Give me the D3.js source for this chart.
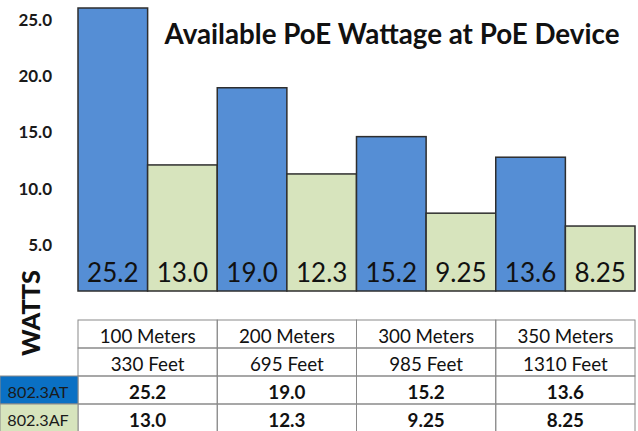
<!DOCTYPE html>
<html>
<head>
<meta charset="utf-8">
<script src="https://cdn.jsdelivr.net/npm/d3@7"></script>
<style>
  html, body { margin: 0; padding: 0; background: #ffffff; }
  svg { display: block; font-family: Lato, "Open Sans", sans-serif; }
</style>
</head>
<body>
<div id="chart"></div>
<script>
// chart data
const distancesMeters = ["100 Meters", "200 Meters", "300 Meters", "350 Meters"];
const distancesFeet = ["330 Feet", "695 Feet", "985 Feet", "1310 Feet"];
const seriesNames = ["802.3AT", "802.3AF"];
const wattsAT = [25.2, 19.0, 15.2, 13.6];
const wattsAF = [13.0, 12.3, 9.25, 8.25];
const yTicks = [5, 10, 15, 20, 25];
const title = "Available PoE Wattage at PoE Device";
const yTitle = "WATTS";

const width = 638, height = 431;
const blue = "#558ed5", green = "#d7e4bd", legendBlue = "#0a70c4";
const fmt = v => Number.isInteger(Math.round(v * 100) / 10) ? v.toFixed(1) : v.toFixed(2);

const svg = d3.select("#chart").append("svg")
    .attr("width", width)
    .attr("height", height);

const x = d3.scaleBand().domain(distancesMeters).range([78, 635]);
const xs = d3.scaleBand().domain(seriesNames).range([0, x.bandwidth()]);
// the tick labels and the bars in the original do not share one scale
const yAxisScale = d3.scaleLinear().domain([0, 25]).range([301, 20]);
const yBar = d3.scaleLinear().domain([3.2, 25.2]).range([291, 8]);

const bars = [];
distancesMeters.forEach((m, i) => {
    bars.push({ cat: m, series: seriesNames[0], value: wattsAT[i] });
    bars.push({ cat: m, series: seriesNames[1], value: wattsAF[i] });
});

// bars
svg.append("g").selectAll("rect")
    .data(bars)
    .enter()
    .append("rect")
    .attr("x", d => x(d.cat) + xs(d.series))
    .attr("y", d => yBar(d.value))
    .attr("width", xs.bandwidth())
    .attr("height", d => yBar.range()[0] - yBar(d.value))
    .attr("fill", d => d.series === seriesNames[0] ? blue : green)
    .attr("stroke", "#2e2e2e")
    .attr("stroke-width", 1.5);

svg.append("g").selectAll("text")
    .data(bars)
    .enter()
    .append("text")
    .attr("x", d => x(d.cat) + xs(d.series) + xs.bandwidth() / 2)
    .attr("y", 282)
    .attr("text-anchor", "middle")
    .style("font-size", "26px")
    .style("fill", "#111")
    .text(d => fmt(d.value));

// y axis labels
const yAxis = svg.append("g")
    .attr("transform", "translate(55,0)")
    .call(d3.axisLeft(yAxisScale).tickValues(yTicks).tickFormat(d3.format(".1f")).tickSize(0).tickPadding(3));
yAxis.select(".domain").remove();
yAxis.selectAll("text")
    .style("font-family", "Lato, sans-serif")
    .style("font-size", "17px")
    .style("font-weight", "bold")
    .style("fill", "#1a1a1a");

// title, fitted to the width in the picture
function fitText(sel, targetWidth) {
    const w = sel.node().getComputedTextLength();
    const size = parseFloat(sel.style("font-size"));
    sel.style("font-size", (size * targetWidth / w) + "px");
}
const titleText = svg.append("text")
    .attr("x", 392)
    .attr("y", 44)
    .attr("text-anchor", "middle")
    .style("font-size", "28px")
    .style("font-weight", "bold")
    .style("fill", "#111")
    .text(title);
fitText(titleText, 455);

const wattsText = svg.append("text")
    .attr("transform", "translate(40,313) rotate(-90)")
    .attr("text-anchor", "middle")
    .style("font-size", "30px")
    .style("font-weight", 900)
    .style("fill", "#111")
    .text(yTitle);
fitText(wattsText, 86);

// table under the bars
const rowKeys = ["meters", "feet", "at", "af"];
const row = d3.scaleBand().domain(rowKeys).range([320, 432]);
const rows = [
    { key: "meters", cells: distancesMeters, bold: false },
    { key: "feet", cells: distancesFeet, bold: false },
    { key: "at", cells: wattsAT.map(fmt), bold: true },
    { key: "af", cells: wattsAF.map(fmt), bold: true }
];

const table = svg.append("g");
rows.forEach(r => {
    distancesMeters.forEach((m, i) => {
        table.append("rect")
            .attr("x", x(m))
            .attr("y", row(r.key))
            .attr("width", x.bandwidth())
            .attr("height", row.bandwidth())
            .attr("fill", "none")
            .attr("stroke", "#8a8a8a")
            .attr("stroke-width", 1);
        table.append("text")
            .attr("x", x(m) + x.bandwidth() / 2)
            .attr("y", row(r.key) + row.bandwidth() / 2 + 8.5)
            .attr("text-anchor", "middle")
            .style("font-size", "18.8px")
            .style("font-weight", r.bold ? "bold" : "normal")
            .style("fill", "#111")
            .text(r.cells[i]);
    });
});

// legend cells on the left of the value rows
seriesNames.forEach((s, i) => {
    const key = rowKeys[2 + i];
    table.append("rect")
        .attr("x", 0)
        .attr("y", row(key))
        .attr("width", 78)
        .attr("height", row.bandwidth())
        .attr("fill", i === 0 ? legendBlue : green)
        .attr("stroke", "#8a8a8a")
        .attr("stroke-width", 1);
    table.append("text")
        .attr("x", 38)
        .attr("y", row(key) + row.bandwidth() / 2 + 8)
        .attr("text-anchor", "middle")
        .style("font-size", "16.2px")
        .style("fill", "#1a1a1a")
        .text(s);
});
</script>
</body>
</html>
